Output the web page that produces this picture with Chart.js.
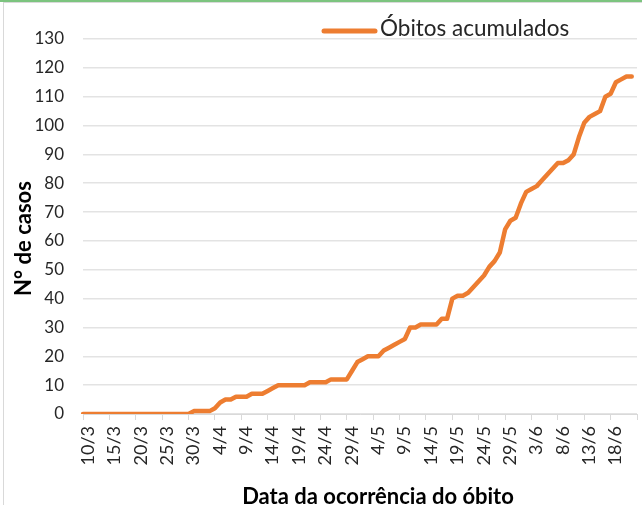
<!DOCTYPE html>
<html>
<head>
<meta charset="utf-8">
<script src="https://cdn.jsdelivr.net/npm/chart.js@4.4.1/dist/chart.umd.min.js"></script>
<style>
    html, body { margin: 0; padding: 0; background: #fff; }
    body { width: 642px; height: 505px; position: relative; overflow: hidden; }
    #linhaTopo { position: absolute; left: 0; top: 0; width: 642px; height: 2px; background: #7cc47f; }
    #moldura { position: absolute; left: 3px; top: 2px; width: 700px; height: 600px; border: 1px solid #d9d9d9; }
    #area { position: absolute; left: 0; top: 0; width: 642px; height: 505px; }
</style>
</head>
<body>
<div id="linhaTopo"></div>
<div id="moldura"></div>
<div id="area"><canvas id="obitosChart" width="642" height="505"></canvas></div>
<script>
// Datas (dia/mês) de 10/3 a 23/6
const mesesDias = [[3, 10, 31], [4, 1, 30], [5, 1, 31], [6, 1, 23]];
const datas = [];
mesesDias.forEach(([mes, ini, fim]) => {
    for (let d = ini; d <= fim; d++) datas.push(d + '/' + mes);
});

// Óbitos acumulados por dia (10/3 a 22/6)
const obitos = [
    0, 0, 0, 0, 0, 0, 0, 0, 0, 0,
    0, 0, 0, 0, 0, 0, 0, 0, 0, 0,
    0, 1, 1, 1, 1, 2, 4, 5, 5, 6,
    6, 6, 7, 7, 7, 8, 9, 10, 10, 10,
    10, 10, 10, 11, 11, 11, 11, 12, 12, 12,
    12, 15, 18, 19, 20, 20, 20, 22, 23, 24,
    25, 26, 30, 30, 31, 31, 31, 31, 33, 33,
    40, 41, 41, 42, 44, 46, 48, 51, 53, 56,
    64, 67, 68, 73, 77, 78, 79, 81, 83, 85,
    87, 87, 88, 90, 96, 101, 103, 104, 105, 110,
    111, 115, 116, 117, 117
];

const yTicks = [0, 130, 10]; // min, max, passo

const textos = {
    legenda: 'Óbitos acumulados',
    eixoX: 'Data da ocorrência do óbito',
    eixoY: 'N° de casos'
};

// Legenda e títulos dos eixos desenhados à mão
const extras = {
    id: 'extras',
    afterDraw(chart) {
        const ctx = chart.ctx;
        const area = chart.chartArea;
        const ds = chart.data.datasets[0];
        ctx.save();

        // legenda
        ctx.strokeStyle = ds.borderColor;
        ctx.lineWidth = 5;
        ctx.lineCap = 'round';
        ctx.beginPath();
        ctx.moveTo(324, 31);
        ctx.lineTo(375, 31);
        ctx.stroke();
        ctx.fillStyle = '#262626';
        ctx.font = '22.5px Lato';
        ctx.textBaseline = 'middle';
        ctx.textAlign = 'left';
        ctx.fillText(ds.label, 380, 29);

        // título eixo X
        ctx.fillStyle = '#000';
        ctx.font = 'bold 22px Lato';
        ctx.textAlign = 'center';
        ctx.textBaseline = 'alphabetic';
        ctx.fillText(textos.eixoX, (area.left + area.right) / 2 + 18, 504);

        // título eixo Y
        ctx.textBaseline = 'middle';
        ctx.translate(24, (area.top + area.bottom) / 2 + 12);
        ctx.rotate(-Math.PI / 2);
        ctx.fillText(textos.eixoY, 0, 0);
        ctx.restore();
    }
};

const ctx = document.getElementById('obitosChart').getContext('2d');
new Chart(ctx, {
    type: 'line',
    data: {
        labels: datas,
        datasets: [{
            label: textos.legenda,
            data: obitos,
            borderColor: '#ED7D31',
            backgroundColor: '#ED7D31',
            borderWidth: 4.5,
            borderCapStyle: 'round',
            borderJoinStyle: 'round',
            pointRadius: 0,
            tension: 0,
            fill: false
        }]
    },
    options: {
        responsive: false,
        animation: false,
        layout: { padding: { top: 39, right: 5, left: 0, bottom: 0 } },
        scales: {
            x: {
                type: 'category',
                offset: false,
                afterFit: s => { s.height = 91; s.paddingRight = 0; s.paddingLeft = 0; },
                ticks: {
                    autoSkip: false,
                    minRotation: 90,
                    maxRotation: 90,
                    padding: 6,
                    labelOffset: 5,
                    color: '#262626',
                    font: { family: 'Lato', size: 18 },
                    callback: function (val, i) {
                        if (i === datas.length - 1) return '';
                        return i % 5 === 0 ? this.getLabelForValue(val) : null;
                    }
                },
                grid: { drawOnChartArea: false, drawTicks: true, tickLength: 6, color: '#d9d9d9' },
                border: { display: true, color: '#d9d9d9', width: 1 }
            },
            y: {
                min: yTicks[0],
                max: yTicks[1],
                afterFit: s => { s.width = 83; },
                ticks: {
                    stepSize: yTicks[2],
                    padding: 19,
                    color: '#262626',
                    font: { family: 'Lato', size: 17 }
                },
                grid: { color: '#e3e3e3', lineWidth: 1.5, drawTicks: false },
                border: { display: false }
            }
        },
        plugins: {
            legend: { display: false },
            tooltip: { enabled: false }
        }
    },
    plugins: [extras]
});
</script>
</body>
</html>
